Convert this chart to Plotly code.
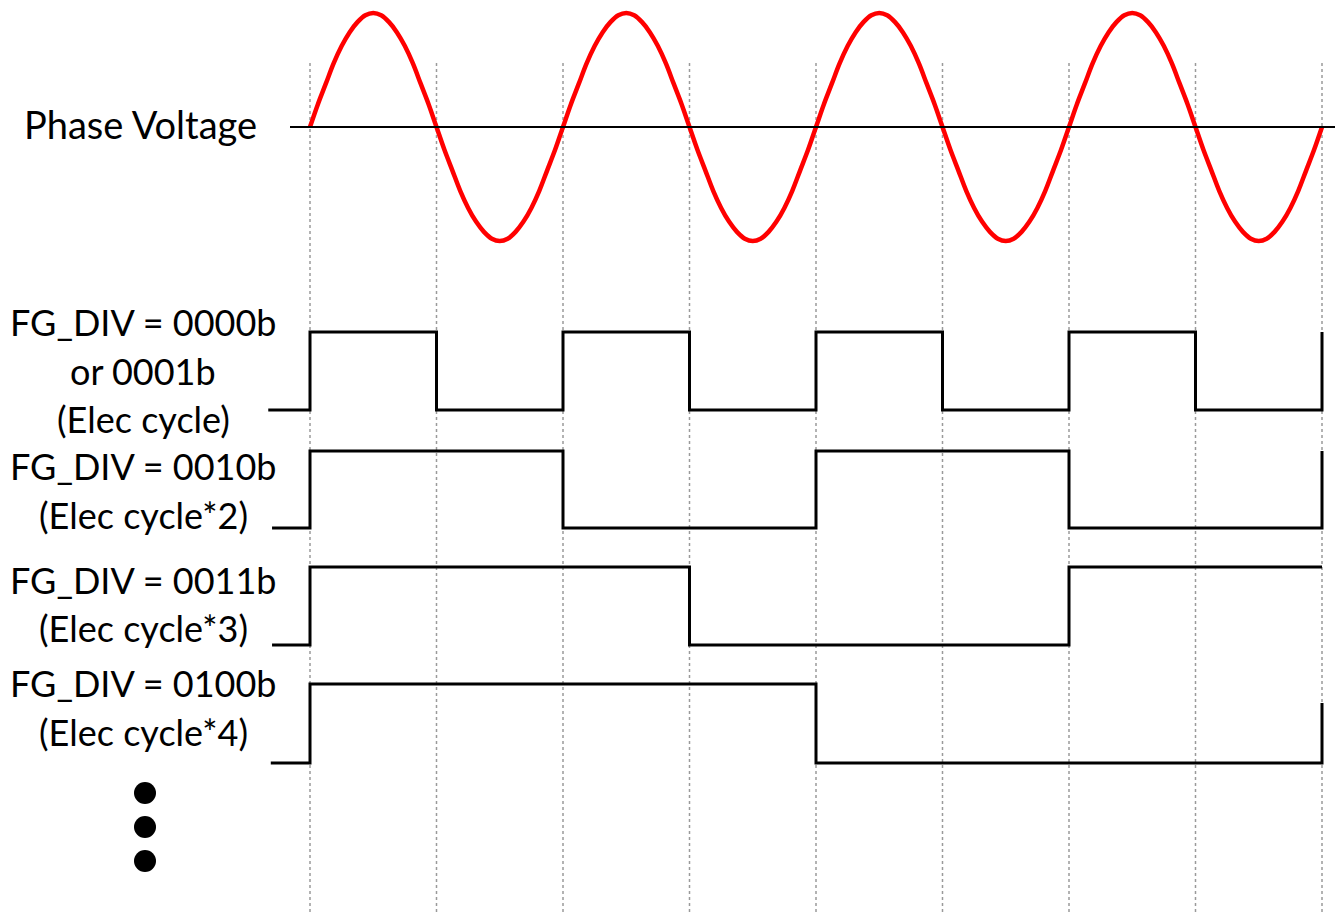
import numpy as np
import plotly.graph_objects as go

W, H = 1343, 914
OFF = 8                       # page body margin in the browser
T0_PX, HALF_PX = 310, 126.5   # screen pixel of t=0 and width of one half electrical cycle

# phase voltage read at 1/16 half-cycle steps (normalised amplitude)
phase_t = list(np.arange(0, 8.001, 1 / 16))
half_wave = [0, 0.20, 0.38, 0.56, 0.71, 0.83, 0.92, 0.98,
             1, 0.98, 0.92, 0.83, 0.71, 0.56, 0.38, 0.20]
phase_v = (half_wave + [-v for v in half_wave]) * 4 + [0]

# FG output edges (time in half cycles) and logic levels
fg1_t = [-0.33, 0, 1, 2, 3, 4, 5, 6, 7, 8]
fg1_v = [0, 1, 0, 1, 0, 1, 0, 1, 0, 1]
fg2_t = [-0.3, 0, 2, 4, 6, 8]
fg2_v = [0, 1, 0, 1, 0, 1]
fg3_t = [-0.3, 0, 3, 6, 8]
fg3_v = [0, 1, 0, 1, 1]
fg4_t = [-0.31, 0, 4, 8]
fg4_v = [0, 1, 0, 0.76]

edges = list(range(9))

labels = [
    ["FG_DIV = 0000b", "or 0001b", "(Elec cycle)"],
    ["FG_DIV = 0010b", "(Elec cycle*2)"],
    ["FG_DIV = 0011b", "(Elec cycle*3)"],
    ["FG_DIV = 0100b", "(Elec cycle*4)"],
]
label_y = [[322, 371, 419], [466, 515], [580, 628], [683, 732]]

# row geometry in screen pixels: (high y, low y)
rows = [(332, 410), (451, 528), (567, 645), (684, 763)]


def px2t(px):
    return (px - T0_PX) / HALF_PX


def xpaper(px):
    return (px - OFF) / W


fig = go.Figure()

# dotted guide lines at every zero crossing
for t in edges:
    fig.add_shape(type="line", x0=t, x1=t, y0=63, y1=912,
                  line=dict(color="#9a9a9a", width=1.5, dash="dot"), layer="below")

# phase voltage zero line
fig.add_shape(type="line", x0=px2t(290), x1=px2t(1340), y0=127, y1=127,
              line=dict(color="black", width=1.8))

zero_y, amp = 127, 114
fig.add_trace(go.Scatter(
    x=phase_t, y=[zero_y - v * amp for v in phase_v],
    mode="lines", line=dict(color="#ff0000", width=4.5, shape="spline", smoothing=1.0),
    hoverinfo="skip"
))

for (ts, vs), (hi, lo) in zip([(fg1_t, fg1_v), (fg2_t, fg2_v), (fg3_t, fg3_v), (fg4_t, fg4_v)], rows):
    fig.add_trace(go.Scatter(
        x=ts, y=[lo - v * (lo - hi) for v in vs],
        mode="lines", line=dict(color="black", width=3, shape="hv"),
        hoverinfo="skip"
    ))

# continuation dots
fig.add_trace(go.Scatter(
    x=[px2t(145)] * 3, y=[793, 827, 861],
    mode="markers", marker=dict(color="black", size=22),
    hoverinfo="skip"
))

font = dict(family="Lato, 'Open Sans', sans-serif", size=36, color="black")
fig.add_annotation(x=xpaper(140), y=124, xref="paper", yref="y", text="Phase Voltage",
                   showarrow=False, font=dict(font, size=38), xanchor="center", yanchor="middle")
for lines, ys in zip(labels, label_y):
    for txt, y in zip(lines, ys):
        fig.add_annotation(x=xpaper(143), y=y, xref="paper", yref="y", text=txt,
                           showarrow=False, font=font, xanchor="center", yanchor="middle")

fig.update_layout(
    width=W, height=H,
    margin=dict(l=0, r=0, t=0, b=0),
    paper_bgcolor="white", plot_bgcolor="white",
    showlegend=False,
    xaxis=dict(range=[px2t(OFF), px2t(W + OFF)], visible=False, fixedrange=True),
    yaxis=dict(range=[H + OFF, OFF], visible=False, fixedrange=True),
)

fig.write_html("out.html")
